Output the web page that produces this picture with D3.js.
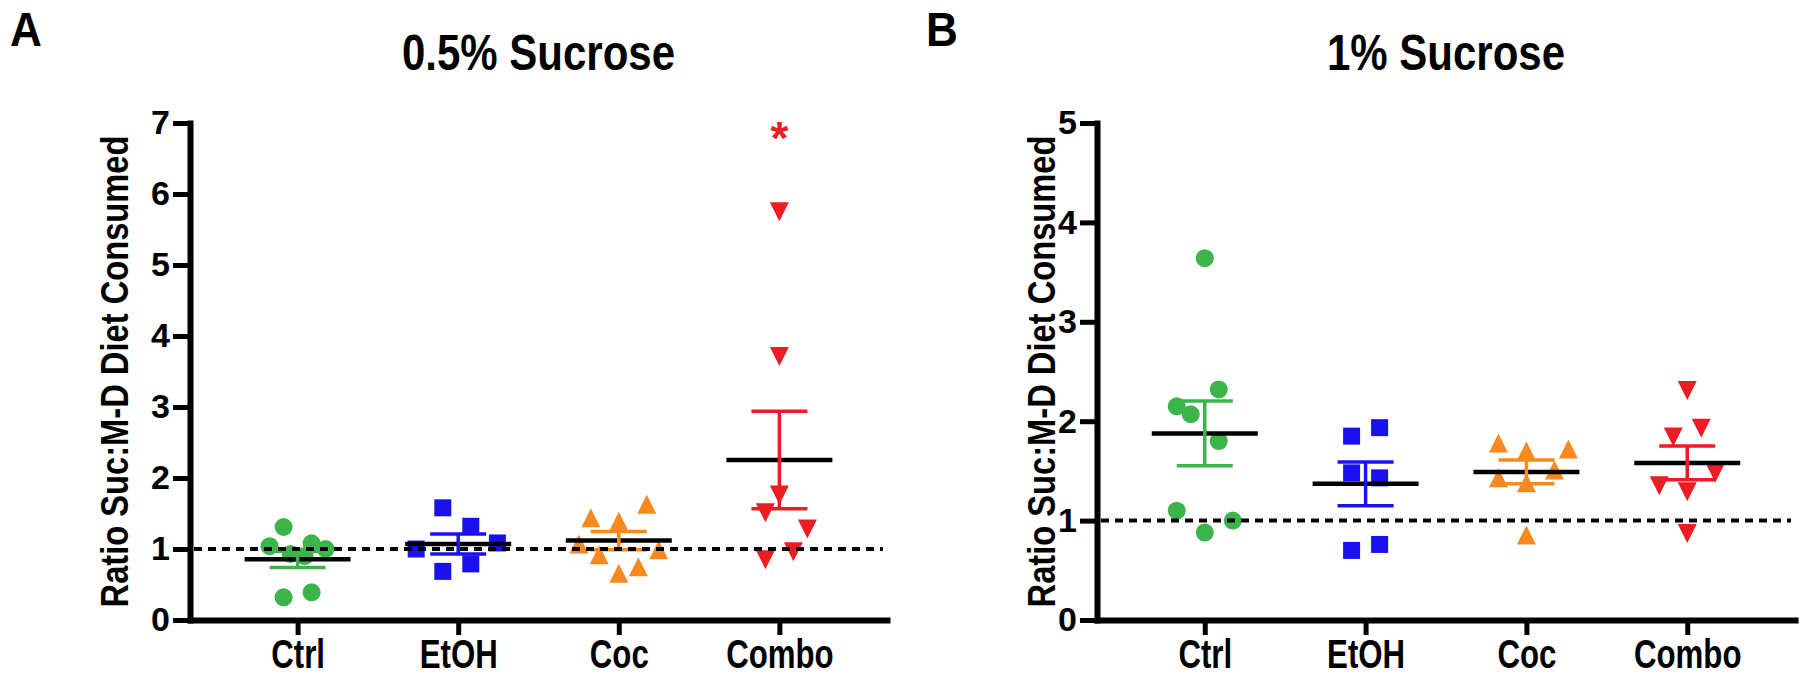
<!DOCTYPE html>
<html>
<head>
<meta charset="utf-8">
<script src="https://cdn.jsdelivr.net/npm/d3@7"></script>
<style>
  html, body { margin: 0; padding: 0; background: #ffffff; }
  svg { display: block; }
  text { font-family: "Liberation Sans", Arial, Helvetica, sans-serif; font-weight: bold; fill: #000; }
</style>
</head>
<body>
<svg id="chart" width="1800" height="680"></svg>
<script>
// ---------------- DATA ----------------
const categories = ["Ctrl", "EtOH", "Coc", "Combo"];
const yLabel = "Ratio Suc:M-D Diet Consumed";
const titleA = "0.5% Sucrose";
const titleB = "1% Sucrose";
const ticksA = [0, 1, 2, 3, 4, 5, 6, 7];
const ticksB = [0, 1, 2, 3, 4, 5];
const referenceLevel = 1;

// Panel A (0.5% sucrose) individual values
const a_Ctrl  = [1.31, 1.04, 1.08, 1.00, 0.93, 0.90, 0.32, 0.39];
const a_EtOH  = [1.58, 1.32, 1.085, 1.00, 0.79, 0.685];
const a_Coc   = [1.63, 1.44, 1.39, 1.07, 0.99, 0.92, 0.75, 0.66];
const a_Combo = [5.75, 3.71, 1.76, 1.51, 1.28, 0.96, 0.85];
// scatter column slot of each point (in marker widths, 0 = centre)
const a_CtrlSlot  = [-1, -2, 1, 2, -0.5, 0.5, -1, 1];
const a_EtOHSlot  = [-1.1, 0.9, 2.8, -3, 0.9, -1.1];
const a_CocSlot   = [2, -2, 0, -2.85, 2.85, -1.4, 1.4, 0];
const a_ComboSlot = [0, 0, 0, -1, 2, 1, -1];
const meansA = [0.854, 1.07, 1.118, 2.253];
const semsA  = [0.114, 0.14, 0.13, 0.687];

// Panel B (1% sucrose) individual values
const b_Ctrl  = [3.64, 2.32, 2.15, 2.07, 1.80, 1.10, 1.00, 0.88];
const b_EtOH  = [1.935, 1.85, 1.48, 1.43, 0.70, 0.76];
const b_Coc   = [1.78, 1.70, 1.72, 1.51, 1.43, 1.38, 0.855];
const b_Combo = [2.31, 1.93, 1.84, 1.48, 1.35, 1.29, 0.87];
const b_CtrlSlot  = [0, 1, -2, -1, 1, -2, 2, 0];
const b_EtOHSlot  = [1, -1, -1, 1, -1, 1];
const b_CocSlot   = [-2, 0, 3, 2, -2, 0, 0];
const b_ComboSlot = [0, 1, -1, 2, -2, 0, 0];
const meansB = [1.877, 1.37, 1.49, 1.58];
const semsB  = [0.325, 0.22, 0.12, 0.17];

// significance marks: [panel, category, label]
const sigMarks = [["A", "Combo", "*"]];

// ---------------- STYLE ----------------
const colors = { Ctrl: "#3bb54a", EtOH: "#1a12ee", Coc: "#f7891e", Combo: "#ed1c24" };
const shapes = { Ctrl: "circle", EtOH: "square", Coc: "triUp", Combo: "triDown" };

const triUp = { draw(ctx, size) { const r = Math.sqrt(size) / 2; ctx.moveTo(0, -r); ctx.lineTo(r, r); ctx.lineTo(-r, r); ctx.closePath(); } };
const triDown = { draw(ctx, size) { const r = Math.sqrt(size) / 2; ctx.moveTo(0, r); ctx.lineTo(r, -r); ctx.lineTo(-r, -r); ctx.closePath(); } };
function symbolFor(cat) {
  const s = shapes[cat];
  if (s === "circle") return d3.symbol().type(d3.symbolCircle).size(Math.PI * 9 * 9);
  if (s === "square") return d3.symbol().type(d3.symbolSquare).size(17 * 17);
  if (s === "triUp") return d3.symbol().type(triUp).size(19 * 19);
  return d3.symbol().type(triDown).size(19 * 19);
}

const svg = d3.select("#chart");
const slotWidth = 14;
const FONT = '"Liberation Sans", Arial, sans-serif';

function drawPanel(cfg) {
  const g = svg.append("g");
  const x = d3.scalePoint().domain(categories).range([cfg.left, cfg.right]).padding(0.67);
  const y = d3.scaleLinear().domain([0, d3.max(cfg.ticks)]).range([620, 123]);

  // y axis
  const yAx = g.append("g").attr("transform", `translate(${cfg.left},0)`)
    .call(d3.axisLeft(y).tickValues(cfg.ticks).tickSize(17).tickSizeOuter(0).tickPadding(3).tickFormat(d3.format("d")));
  // x axis
  const xAx = g.append("g").attr("transform", `translate(0,${y(0)})`)
    .call(d3.axisBottom(x).tickSize(15).tickSizeOuter(0).tickPadding(5));
  [yAx, xAx].forEach(ax => {
    ax.select(".domain").attr("stroke", "#000").attr("stroke-width", 6).attr("stroke-linecap", "square");
    ax.selectAll(".tick line").attr("stroke", "#000").attr("stroke-width", 5);
    ax.selectAll(".tick text").attr("fill", "#000").style("font-weight", "bold").style("font-family", FONT);
  });
  yAx.selectAll(".tick text").style("font-size", "34px");
  xAx.selectAll(".tick text").style("font-size", "40px").attr("transform", "scale(0.78,1)");

  // points
  categories.forEach((cat, i) => {
    const vals = cfg.values[i], slots = cfg.slots[i];
    const sym = symbolFor(cat);
    g.append("g").selectAll("path").data(vals).join("path")
      .attr("d", sym)
      .attr("transform", (d, j) => `translate(${x(cat) + slots[j] * slotWidth},${y(d)})`)
      .attr("fill", colors[cat]);
  });

  // mean lines
  categories.forEach((cat, i) => {
    g.append("line")
      .attr("x1", x(cat) - 53).attr("x2", x(cat) + 53)
      .attr("y1", y(cfg.means[i])).attr("y2", y(cfg.means[i]))
      .attr("stroke", "#000").attr("stroke-width", 4.5);
  });
  // SEM bars
  categories.forEach((cat, i) => {
    const m = cfg.means[i], s = cfg.sems[i];
    const eg = g.append("g").attr("stroke", colors[cat]).attr("stroke-width", 3.5);
    eg.append("line").attr("x1", x(cat)).attr("x2", x(cat)).attr("y1", y(m - s)).attr("y2", y(m + s));
    [m - s, m + s].forEach(v => {
      eg.append("line").attr("x1", x(cat) - 28).attr("x2", x(cat) + 28).attr("y1", y(v)).attr("y2", y(v));
    });
  });

  // reference dashed line at 1
  g.append("line")
    .attr("x1", cfg.left + 4).attr("x2", cfg.right - 4)
    .attr("y1", y(referenceLevel)).attr("y2", y(referenceLevel))
    .attr("stroke", "#000").attr("stroke-width", 4).attr("stroke-dasharray", "8,6");

  // significance marks
  sigMarks.filter(s => s[0] === cfg.id).forEach(s => {
    g.append("text").attr("x", x(s[1])).attr("y", y(d3.max(cfg.ticks)) + 31)
      .attr("text-anchor", "middle").style("font-size", "46px").style("fill", colors[s[1]]).text(s[2]);
  });

  // title
  g.append("text")
    .attr("transform", `translate(${(cfg.left + cfg.right) / 2},70) scale(0.84,1)`)
    .attr("text-anchor", "middle").style("font-size", "50px").text(cfg.title);
  // panel letter
  g.append("text").attr("transform", `translate(${cfg.letterX},46) scale(0.92,1)`)
    .style("font-size", "48px").text(cfg.id);
  // y label
  g.append("text")
    .attr("transform", `translate(${cfg.labelX},${(y(0) + y(d3.max(cfg.ticks))) / 2}) rotate(-90) scale(0.86,1)`)
    .attr("text-anchor", "middle").style("font-size", "38px").text(yLabel);
}

drawPanel({
  id: "A", title: titleA, left: 190, right: 887, ticks: ticksA, letterX: 10, labelX: 128,
  values: [a_Ctrl, a_EtOH, a_Coc, a_Combo], slots: [a_CtrlSlot, a_EtOHSlot, a_CocSlot, a_ComboSlot],
  means: meansA, sems: semsA
});
drawPanel({
  id: "B", title: titleB, left: 1097, right: 1795, ticks: ticksB, letterX: 926, labelX: 1055,
  values: [b_Ctrl, b_EtOH, b_Coc, b_Combo], slots: [b_CtrlSlot, b_EtOHSlot, b_CocSlot, b_ComboSlot],
  means: meansB, sems: semsB
});
</script>
</body>
</html>
